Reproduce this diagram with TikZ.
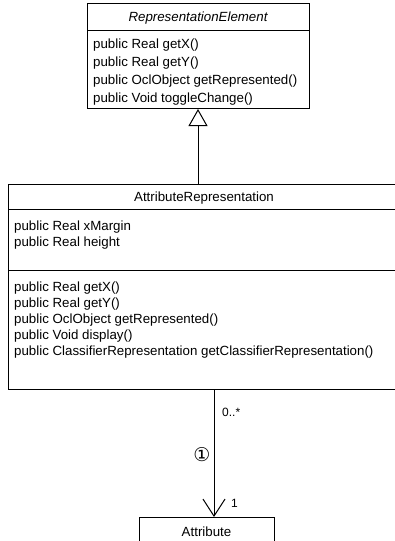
\documentclass[tikz,border=0pt]{standalone}
\usepackage{fontspec}
\setmainfont{Liberation Sans}
\newfontfamily\symfont{DejaVu Sans}
\usetikzlibrary{arrows.meta}
\begin{document}
\begin{tikzpicture}[x=1pt,y=-1pt,
  classbox/.style={draw,line width=1pt,inner sep=0pt,anchor=north west},
  member/.style={anchor=base west,inner sep=0pt,font=\fontsize{13.3}{16}\selectfont},
  title/.style={anchor=base,inner sep=0pt,font=\fontsize{13.3}{16}\selectfont},
  rule/.style={line width=1pt},
  label/.style={inner sep=0pt,font=\fontsize{12}{14}\selectfont},
  generalization/.style={line width=1pt,-{Triangle[open,length=17pt,width=19pt,line width=1pt]}},
  association/.style={line width=1pt,-{Straight Barb[length=17pt,width=22pt,line width=1pt]}}]
\useasboundingbox (0,0) rectangle (395,541);
\clip (0,0) rectangle (395,541);

% RepresentationElement (abstract)
\node[classbox,minimum width=222pt,minimum height=105pt] (repr) at (87,3) {};
\draw[rule] (87,30) -- (309,30);
\node[title,font=\fontsize{13.3}{16}\selectfont\itshape] (reprT) at (198,21.5) {RepresentationElement};
\node[member] (r1) at (93,48.5) {public Real getX()};
\node[member] (r2) at (93,66.5) {public Real getY()};
\node[member] (r3) at (93,84.5) {public OclObject getRepresented()};
\node[member] (r4) at (93,102.5) {public Void toggleChange()};

% AttributeRepresentation
\node[classbox,minimum width=392pt,minimum height=205pt] (attrRep) at (8,184) {};
\draw[rule] (8,209) -- (400,209);
\draw[rule] (8,270) -- (400,270);
\node[title] (aT) at (204,201.5) {AttributeRepresentation};
\node[member] (a1) at (14,230.5) {public Real xMargin};
\node[member] (a2) at (14,246.5) {public Real height};
\node[member] (m1) at (14,291.5) {public Real getX()};
\node[member] (m2) at (14,307.5) {public Real getY()};
\node[member] (m3) at (14,323.5) {public OclObject getRepresented()};
\node[member] (m4) at (14,339.5) {public Void display()};
\node[member] (m5) at (14,355.5) {public ClassifierRepresentation getClassifierRepresentation()};

% Attribute
\node[classbox,minimum width=135pt,minimum height=60pt] (attr) at (139,517) {};
\node[title] (attrT) at (206.5,536.5) {Attribute};

% connectors
\coordinate (genX) at (198,0);
\coordinate (assocX) at (214,0);
\draw[generalization] (attrRep.north -| genX) -- (repr.south -| genX);
\draw[association] (attrRep.south -| assocX) -- (attr.north -| assocX);

% association labels
\node[label,anchor=west] (multFrom) at (222,412) {0..*};
\node[label,anchor=west] (multTo) at (231,503) {1};
\node[inner sep=0pt,font=\symfont\fontsize{19}{21}\selectfont] (num) at (202,455) {①};
\end{tikzpicture}
\end{document}
